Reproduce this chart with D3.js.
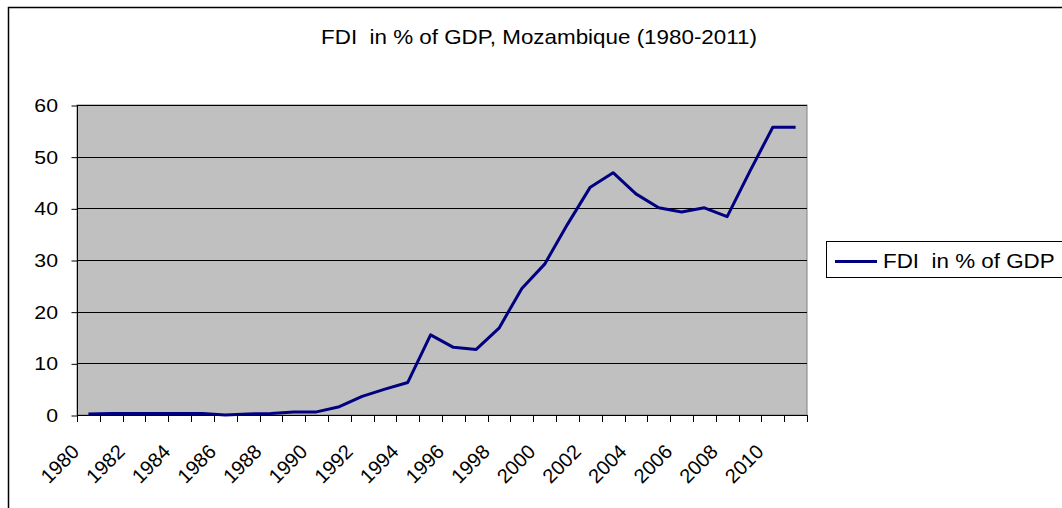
<!DOCTYPE html>
<html>
<head>
<meta charset="utf-8">
<script src="https://cdn.jsdelivr.net/npm/d3@7"></script>
<style>
  body { margin: 0; background: white; }
  svg { display: block; font-family: "Liberation Sans", Arial, sans-serif; }
  svg text { white-space: pre; }
</style>
</head>
<body>
<div id="chart"></div>
<script>
// data
const years = d3.range(1980, 2012).map(String);
const fdi = [0.2, 0.3, 0.3, 0.3, 0.3, 0.3, 0.0, 0.2, 0.3, 0.6,
             0.6, 1.6, 3.6, 5.0, 6.3, 15.5, 13.1, 12.7, 16.8, 24.5,
             29.2, 36.9, 44.1, 46.9, 42.8, 40.1, 39.3, 40.1, 38.4, 47.2,
             55.7, 55.7];
const yTicks = [0, 10, 20, 30, 40, 50, 60];
const xLabels = years.filter((d, i) => i % 2 == 0);
const title = "FDI  in % of GDP, Mozambique (1980-2011)";
const seriesName = "FDI  in % of GDP";

const width = 1062, height = 508;
const plot = {left: 77, top: 105, right: 807, bottom: 415};
const stretch = 1.12; // text in the original is a little wider than normal

const svg = d3.select("#chart").append("svg")
  .attr("width", width)
  .attr("height", height);

// outer chart frame (cut off on right and bottom)
svg.append("rect")
  .attr("x", 8.5).attr("y", 7.5)
  .attr("width", 1200).attr("height", 700)
  .attr("fill", "white")
  .attr("stroke", "black")
  .attr("stroke-width", 1.5);

const x = d3.scaleBand()
  .domain(years)
  .range([plot.left, plot.right]);

const y = d3.scaleLinear()
  .domain([0, 60])
  .range([plot.bottom, plot.top]);

function addText(g, tx, ty, str, size, anchor, rotate, sx) {
  sx = (typeof sx === "undefined") ? stretch : sx;
  let t = g.append("g")
    .attr("transform", "translate(" + tx + "," + ty + ")" + (rotate ? " rotate(" + rotate + ")" : "") + " scale(" + sx + ",1)");
  t.append("text")
    .attr("text-anchor", anchor)
    .attr("font-size", size)
    .attr("fill", "black")
    .attr("xml:space", "preserve")
    .text(str);
  return t;
}

// plot area
svg.append("rect")
  .attr("x", plot.left).attr("y", plot.top)
  .attr("width", plot.right - plot.left)
  .attr("height", plot.bottom - plot.top)
  .attr("fill", "#c0c0c0")
  .attr("stroke", "#808080")
  .attr("stroke-width", 1);

// gridlines
svg.append("g")
  .selectAll("line")
  .data(yTicks.filter(d => d > 0))
  .enter()
  .append("line")
  .attr("x1", plot.left).attr("x2", plot.right)
  .attr("y1", d => Math.round(y(d)) + 0.5)
  .attr("y2", d => Math.round(y(d)) + 0.5)
  .attr("stroke", "black")
  .attr("stroke-width", 1);

// y axis
let yAxis = svg.append("g")
  .attr("transform", "translate(" + (plot.left + 0.5) + ",0.5)")
  .call(d3.axisLeft(y).tickValues(yTicks).tickSize(6).tickFormat(""));
yAxis.selectAll("line, path").attr("stroke", "black");
yAxis.select(".domain").attr("d", "M0," + plot.top + "V" + plot.bottom);

let yLab = svg.append("g");
yTicks.forEach(d => addText(yLab, 58, y(d) + 7, d, 19, "end"));

// x axis: ticks on category boundaries
let bounds = years.map(d => x(d)).concat([plot.right]);
let xAxis = svg.append("g");
xAxis.append("line")
  .attr("x1", plot.left).attr("x2", plot.right)
  .attr("y1", plot.bottom + 0.5).attr("y2", plot.bottom + 0.5)
  .attr("stroke", "black");
xAxis.selectAll(".tick")
  .data(bounds)
  .enter()
  .append("line")
  .attr("x1", d => Math.round(d) + 0.5).attr("x2", d => Math.round(d) + 0.5)
  .attr("y1", plot.bottom).attr("y2", plot.bottom + 7)
  .attr("stroke", "black");

let xLab = svg.append("g");
xLabels.forEach(d => {
  let cx = x(d) + x.bandwidth() / 2;
  addText(xLab, cx - 8, 453, d, 20, "end", -45, 1);
});

// series line
const line = d3.line()
  .x((d, i) => x(years[i]) + x.bandwidth() / 2)
  .y(d => y(d));

svg.append("path")
  .datum(fdi)
  .attr("d", line)
  .attr("fill", "none")
  .attr("stroke", "#000080")
  .attr("stroke-width", 3)
  .attr("stroke-linejoin", "round");

// title
addText(svg, 539, 44, title, 20, "middle");

// legend
let legend = svg.append("g");
legend.append("rect")
  .attr("x", 826.5).attr("y", 241.5)
  .attr("width", 400).attr("height", 36)
  .attr("fill", "white")
  .attr("stroke", "black")
  .attr("stroke-width", 1);
legend.append("line")
  .attr("x1", 835).attr("x2", 877)
  .attr("y1", 261.5).attr("y2", 261.5)
  .attr("stroke", "#000080")
  .attr("stroke-width", 3);
addText(legend, 883, 268, seriesName, 20, "start");
</script>
</body>
</html>
